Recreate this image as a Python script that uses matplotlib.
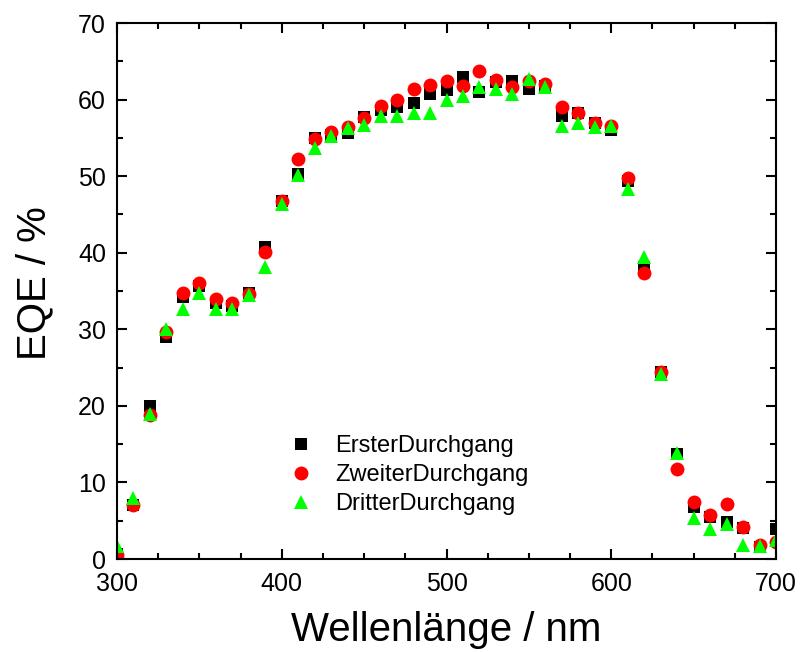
import matplotlib.pyplot as plt
import numpy as np
from matplotlib.ticker import MultipleLocator

plt.rcParams['font.family'] = ['Liberation Sans', 'DejaVu Sans']

# Wellenlaenge in nm
wl = np.arange(300, 701, 10)

erster = [0.7, 7.0, 20.0, 29.0, 34.2, 35.7, 33.5, 33.0, 34.7, 40.8,
          46.8, 50.3, 55.0, 55.4, 55.7, 57.7, 58.6, 59.0, 59.6, 60.8,
          61.3, 62.9, 61.0, 62.3, 62.4, 61.4, 61.8, 57.9, 58.3, 57.0,
          56.0, 49.4, 38.1, 24.4, 13.7, 6.8, 5.5, 4.9, 4.0, 1.6, 3.9]
zweiter = [0.5, 7.0, 18.8, 29.6, 34.7, 36.1, 33.9, 33.4, 34.6, 40.1,
           46.8, 52.3, 54.8, 55.8, 56.4, 57.6, 59.2, 59.9, 61.4, 61.9,
           62.4, 61.8, 63.8, 62.6, 61.7, 62.5, 62.1, 59.0, 58.3, 57.0,
           56.5, 49.8, 37.3, 24.4, 11.7, 7.4, 5.7, 7.2, 4.2, 1.8, 2.2]
dritter = [1.7, 8.0, 18.9, 30.0, 32.7, 34.7, 32.6, 32.6, 34.5, 38.2,
           46.4, 50.1, 53.7, 55.2, 56.3, 56.7, 57.8, 57.8, 58.3, 58.3,
           60.0, 60.5, 61.7, 61.4, 60.7, 62.7, 61.7, 56.6, 56.9, 56.4,
           56.5, 48.3, 39.5, 24.2, 13.8, 5.3, 3.9, 4.6, 1.8, 1.7, 2.5]

fig = plt.figure(figsize=(8.03, 6.52), dpi=100)
ax = fig.add_axes([0.1457, 0.1426, 0.8207, 0.822])

ax.plot(wl, erster, 's', color='black', ms=8, mew=0, label='ErsterDurchgang')
ax.plot(wl, zweiter, 'o', color='red', ms=10, mew=0, label='ZweiterDurchgang')
ax.plot(wl, dritter, '^', color='#00ff00', ms=10, mew=0, label='DritterDurchgang')

ax.set_xlim(300, 700)
ax.set_ylim(0, 70)
ax.xaxis.set_major_locator(MultipleLocator(100))
ax.xaxis.set_minor_locator(MultipleLocator(25))
ax.yaxis.set_major_locator(MultipleLocator(10))
ax.yaxis.set_minor_locator(MultipleLocator(5))
ax.tick_params(which='both', direction='in', top=True, right=True,
               width=1.5, labelsize=18)
ax.tick_params(which='major', length=7.5)
ax.tick_params(which='minor', length=4)
ax.tick_params(axis='x', pad=9)
ax.tick_params(axis='y', pad=8)
for sp in ax.spines.values():
    sp.set_linewidth(1.5)

ax.set_xlabel('Wellenlänge / nm', fontsize=29, labelpad=11)
ax.set_ylabel('EQE / %', fontsize=29, labelpad=18)
ax.yaxis.label.set_y(0.514)

ax.legend(loc='upper left', bbox_to_anchor=(0.218, 0.262), frameon=False,
          fontsize=17, handletextpad=0.45, labelspacing=0.3, borderpad=0.2)

plt.savefig('out.png', dpi=100)
